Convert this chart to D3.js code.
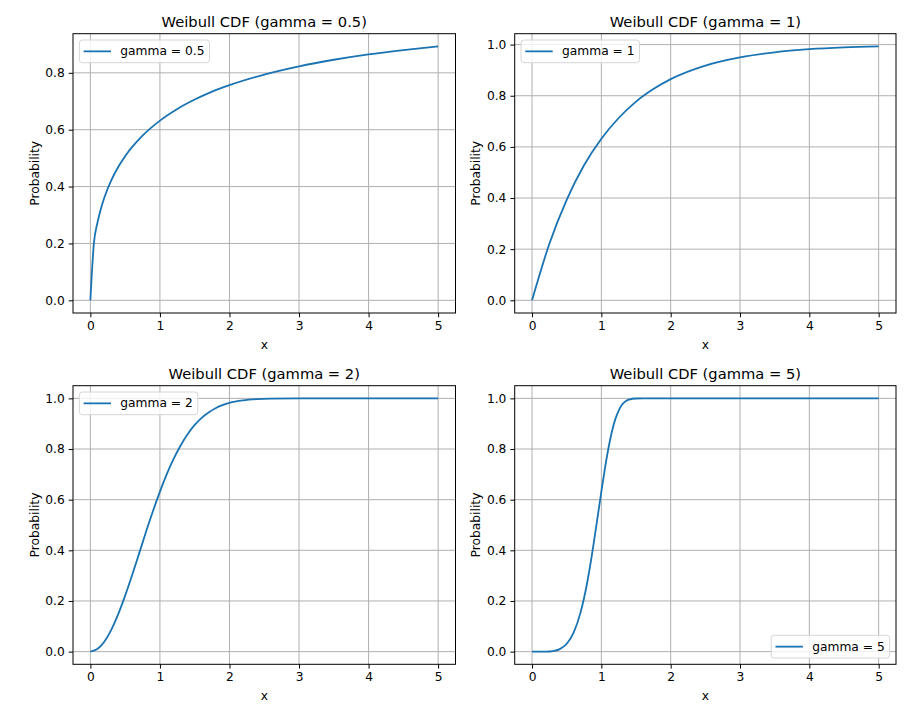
<!DOCTYPE html>
<html><head><meta charset="utf-8">
<script src="https://cdn.jsdelivr.net/npm/d3@7"></script>
<style>
body{margin:0;background:#fff;}
text{font-family:"DejaVu Sans",sans-serif;fill:#000;}
</style></head>
<body><svg id="c" width="906" height="708"></svg>
<script>
// Values
const titles = ["Weibull CDF (gamma = 0.5)","Weibull CDF (gamma = 1)","Weibull CDF (gamma = 2)","Weibull CDF (gamma = 5)"];
const legendLabels = ["gamma = 0.5","gamma = 1","gamma = 2","gamma = 5"];
const xTicks = [0,1,2,3,4,5];
const yTicksA = [0.0,0.2,0.4,0.6,0.8];
const yTicksB = [0.0,0.2,0.4,0.6,0.8,1.0];

const xG05 = [0,0.05,0.1,0.15,0.2,0.3,0.4,0.5,0.75,1,1.25,1.5,1.75,2,2.5,3,3.5,4,4.5,5];
const yG05 = [0,0.200,0.271,0.321,0.361,0.422,0.469,0.507,0.579,0.632,0.673,0.706,0.734,0.757,0.794,0.823,0.846,0.865,0.880,0.893];

const xG1 = [0,0.25,0.5,0.75,1,1.25,1.5,1.75,2,2.5,3,3.5,4,4.5,5];
const yG1 = [0,0.221,0.393,0.528,0.632,0.713,0.777,0.826,0.865,0.918,0.950,0.970,0.982,0.989,0.993];

const xG2 = [0,0.1,0.2,0.3,0.4,0.5,0.6,0.7,0.8,0.9,1.0,1.1,1.2,1.3,1.4,1.5,1.6,1.7,1.8,1.9,2.0,2.2,2.4,2.6,3,4,5];
const yG2 = [0,0.010,0.039,0.086,0.148,0.221,0.302,0.387,0.473,0.555,0.632,0.702,0.763,0.815,0.859,0.895,0.923,0.944,0.961,0.973,0.982,0.992,0.997,0.999,1.0,1.0,1.0];

const xG5 = [0,0.2,0.3,0.4,0.5,0.6,0.7,0.8,0.85,0.9,0.95,1.0,1.05,1.1,1.15,1.2,1.25,1.3,1.35,1.4,1.5,1.6,2,3,4,5];
const yG5 = [0,0.0003,0.0024,0.010,0.031,0.075,0.155,0.279,0.358,0.447,0.539,0.632,0.721,0.800,0.866,0.917,0.952,0.976,0.989,0.995,0.9995,1.0,1.0,1.0,1.0,1.0];

const seriesX = [xG05,xG1,xG2,xG5];
const seriesY = [yG05,yG1,yG2,yG5];
const yTickSets = [yTicksA,yTicksB,yTicksB,yTicksB];
const legendPos = ["ul","ul","ul","lr"];

// Layout
const cols = [[73,455.5],[514.7,896]];
const rows = [[33.7,313],[385.7,664.3]];
const blue = "#1a73b2";
const fs = 12.25;
const svg = d3.select("#c");

function pad(ext){const d=ext[1]-ext[0];return [ext[0]-0.05*d, ext[1]+0.05*d];}

for(let i=0;i<4;i++){
  const [L,R] = cols[i%2];
  const [T,B] = rows[Math.floor(i/2)];
  const xs = seriesX[i], ys = seriesY[i];
  const x = d3.scaleLinear().domain(pad(d3.extent(xs))).range([L,R]);
  const y = d3.scaleLinear().domain(pad(d3.extent(ys))).range([B,T]);
  const g = svg.append("g");

  // grid
  g.selectAll(null).data(xTicks).join("line")
    .attr("x1",d=>x(d)).attr("x2",d=>x(d)).attr("y1",T).attr("y2",B)
    .attr("stroke","#b0b0b0").attr("stroke-width",1);
  g.selectAll(null).data(yTickSets[i]).join("line")
    .attr("x1",L).attr("x2",R).attr("y1",d=>y(d)).attr("y2",d=>y(d))
    .attr("stroke","#b0b0b0").attr("stroke-width",1);

  // line
  const pts = xs.map((v,k)=>[v,ys[k]]);
  g.append("path").datum(pts)
    .attr("d", d3.line().x(d=>x(d[0])).y(d=>y(d[1])).curve(d3.curveMonotoneX))
    .attr("fill","none").attr("stroke",blue).attr("stroke-width",1.8)
    .attr("stroke-linejoin","round").attr("stroke-linecap","butt");

  // axes
  const ax = d3.axisBottom(x).tickValues(xTicks).tickFormat(d3.format("d")).tickSize(4.3).tickPadding(4);
  const ay = d3.axisLeft(y).tickValues(yTickSets[i]).tickFormat(d3.format(".1f")).tickSize(4.3).tickPadding(4);
  const gx = g.append("g").attr("transform",`translate(0,${B})`).call(ax);
  const gy = g.append("g").attr("transform",`translate(${L},0)`).call(ay);
  [gx,gy].forEach(a=>{
    a.select(".domain").remove();
    a.selectAll(".tick line").attr("stroke","#000").attr("stroke-width",1);
    a.selectAll(".tick text").attr("font-size",fs).attr("font-family","DejaVu Sans").attr("fill","#000");
  });

  // frame
  g.append("rect").attr("x",L).attr("y",T).attr("width",R-L).attr("height",B-T)
    .attr("fill","none").attr("stroke","#000").attr("stroke-width",1);

  // title & labels
  g.append("text").attr("x",(L+R)/2).attr("y",T-7).attr("text-anchor","middle")
    .attr("font-size",14.7).text(titles[i]);
  g.append("text").attr("x",(L+R)/2).attr("y",B+35.5).attr("text-anchor","middle")
    .attr("font-size",fs).text("x");
  g.append("text").attr("transform",`translate(${L-38},${(T+B)/2}) rotate(-90)`)
    .attr("text-anchor","middle").attr("dominant-baseline","middle")
    .attr("font-size",fs).text("Probability");

  // legend
  const tmp = g.append("text").attr("font-size",fs).text(legendLabels[i]);
  const tw = tmp.node().getComputedTextLength(); tmp.remove();
  const lw = 4.3 + 27.4 + 9.3 + tw + 5, lh = 22.7;
  let lx, ly;
  if(legendPos[i]==="ul"){ lx = L+6.3; ly = T+6.3; }
  else { lx = R-6.3-lw; ly = B-6.3-lh; }
  const lg = g.append("g").attr("transform",`translate(${lx},${ly})`);
  lg.append("rect").attr("width",lw).attr("height",lh).attr("rx",3)
    .attr("fill","rgba(255,255,255,0.8)").attr("stroke","#d6d6d6").attr("stroke-width",1);
  lg.append("line").attr("x1",4.3).attr("x2",31.7).attr("y1",lh/2).attr("y2",lh/2)
    .attr("stroke",blue).attr("stroke-width",1.8);
  lg.append("text").attr("x",41).attr("y",lh/2).attr("dominant-baseline","central")
    .attr("font-size",fs).text(legendLabels[i]);
}
</script></body></html>
